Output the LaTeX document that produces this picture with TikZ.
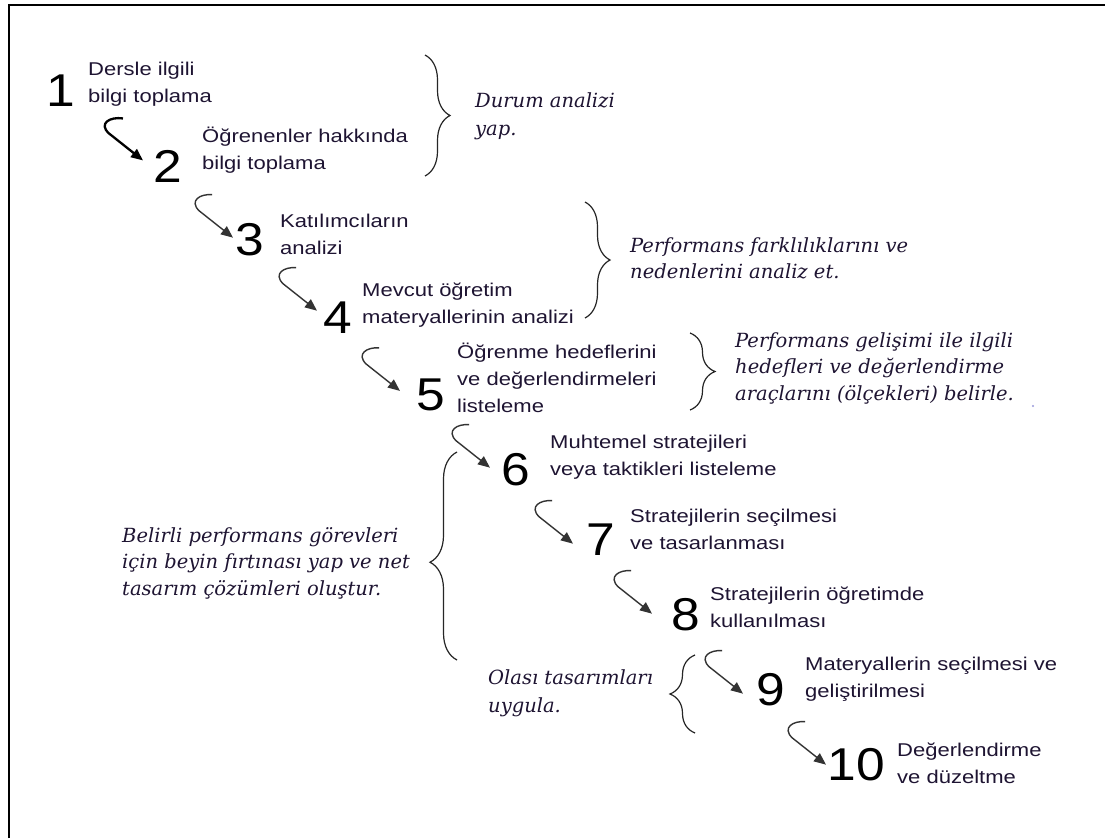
\documentclass[tikz,border=0pt]{standalone}
\usepackage{fontspec}
\usetikzlibrary{arrows.meta,calc,decorations.pathreplacing}
\newfontfamily\bodyfont[FakeStretch=1.19]{Liberation Sans}
\newfontfamily\numfont[FakeStretch=1.12]{Liberation Sans}
\newfontfamily\notefont{DejaVu Serif}
\definecolor{ink}{RGB}{30,20,50}
% multi-line nodes sit on the baseline of their last line
\tikzset{
  num/.style={font=\numfont\fontsize{46}{46}\selectfont, anchor=base west, inner sep=0pt, text=black},
  steptext/.style={font=\bodyfont\fontsize{18.5}{27}\selectfont, anchor=base west, inner sep=0pt, align=left, text=ink},
  note/.style={font=\notefont\itshape\fontsize{19.5}{26.5}\selectfont, anchor=base west, inner sep=0pt, align=left, text=ink},
  widenote/.style={note, font=\notefont\itshape\fontsize{19.5}{28}\selectfont},
  flow/.style={draw=black!80, line width=1.4pt, -{Triangle[length=12pt,width=10pt]}},
  boldflow/.style={flow, draw=black, line width=2.3pt},
  bracket/.style={draw=black!85, line width=1.2pt, decorate, decoration={brace, amplitude=#1}},
  bracket/.default=25pt
}
\begin{document}
\begin{tikzpicture}[x=1pt,y=-1pt]
\useasboundingbox[fill=white] (0,0) rectangle (1105,838);
% frame (top and left edges)
\draw[line width=2.5pt] (9,838) -- (9,5) -- (1105,5);

% step numbers
\node[num] (d1)  at (46.5,106) {1};
\node[num] (d2)  at (153,182) {2};
\node[num] (d3)  at (235,255) {3};
\node[num] (d4)  at (323,333) {4};
\node[num] (d5)  at (416,410) {5};
\node[num] (d6)  at (501,485) {6};
\node[num] (d7)  at (586,555) {7};
\node[num] (d8)  at (671,630) {8};
\node[num] (d9)  at (756,705) {9};
\node[num] (d10) at (827.4,780) {10};

% step descriptions
\node[steptext] (s1)  at (88,102)  {Dersle ilgili\\bilgi toplama};
\node[steptext] (s2)  at (202,169) {Öğrenenler hakkında\\bilgi toplama};
\node[steptext] (s3)  at (280,254) {Katılımcıların\\analizi};
\node[steptext] (s4)  at (362,323) {Mevcut öğretim\\materyallerinin analizi};
\node[steptext] (s5)  at (457,412) {Öğrenme hedeflerini\\ve değerlendirmeleri\\listeleme};
\node[steptext] (s6)  at (550,475) {Muhtemel stratejileri\\veya taktikleri listeleme};
\node[steptext] (s7)  at (630,549) {Stratejilerin seçilmesi\\ve tasarlanması};
\node[steptext] (s8)  at (710,627) {Stratejilerin öğretimde\\kullanılması};
\node[steptext] (s9)  at (805,697) {Materyallerin seçilmesi ve\\geliştirilmesi};
\node[steptext] (s10) at (897,783) {Değerlendirme\\ve düzeltme};

% arrow tips beside the numbers
\coordinate (t2)  at ($(d2.west)+(-10,-5.5)$);
\coordinate (t3)  at ($(d3.west)+(-2,-1.5)$);
\coordinate (t4)  at ($(d4.west)+(-6,-6.5)$);
\coordinate (t5)  at ($(d5.west)+(-16,-3.5)$);
\coordinate (t6)  at ($(d6.west)+(-11,-1.5)$);
\coordinate (t7)  at ($(d7.west)+(-13,4.5)$);
\coordinate (t8)  at ($(d8.west)+(-19,-0.5)$);
\coordinate (t9)  at ($(d9.west)+(-13,4.5)$);
\coordinate (t10) at ($(d10.west)+(-1.4,0.5)$);

% hooked arrows between steps
\draw[boldflow] ($(t2)+(-20,-42)$) .. controls ($(t2)+(-33,-44)$) and ($(t2)+(-45,-37)$) .. ($(t2)+(-34,-27)$) -- (t2);
\foreach \t in {t3,t4,t5,t6,t7,t8,t9,t10}{
  \draw[flow] ($(\t)+(-21,-43)$) .. controls ($(\t)+(-33,-44)$) and ($(\t)+(-44,-37)$) .. ($(\t)+(-34,-27)$) -- (\t);
}

% braces
\draw[bracket] (425,55) -- (425,176);
\draw[bracket] (585,202) -- (585,318);
\draw[bracket] (690,333) -- (690,410);
\draw[draw=black!85, line width=1.2pt, decorate, decoration={brace, amplitude=27pt, aspect=0.47}] (457,660) -- (457,452);
\draw[bracket] (695,733) -- (695,655);

% notes beside the braces
\node[widenote] (n1) at (475,135) {Durum analizi\\yap.};
\node[note] (n2) at (630,278.5) {Performans farklılıklarını ve\\nedenlerini analiz et.};
\node[note] (n3) at (735,400) {Performans gelişimi ile ilgili\\hedefleri ve değerlendirme\\araçlarını (ölçekleri) belirle.};
\node[note] (n4) at (122,595) {Belirli performans görevleri\\için beyin fırtınası yap ve net\\tasarım çözümleri oluştur.};
\node[widenote] (n5) at (488,712) {Olası tasarımları\\uygula.};
\fill[black!35!blue!40] (1033,406) circle (1.1pt);
\end{tikzpicture}
\end{document}
